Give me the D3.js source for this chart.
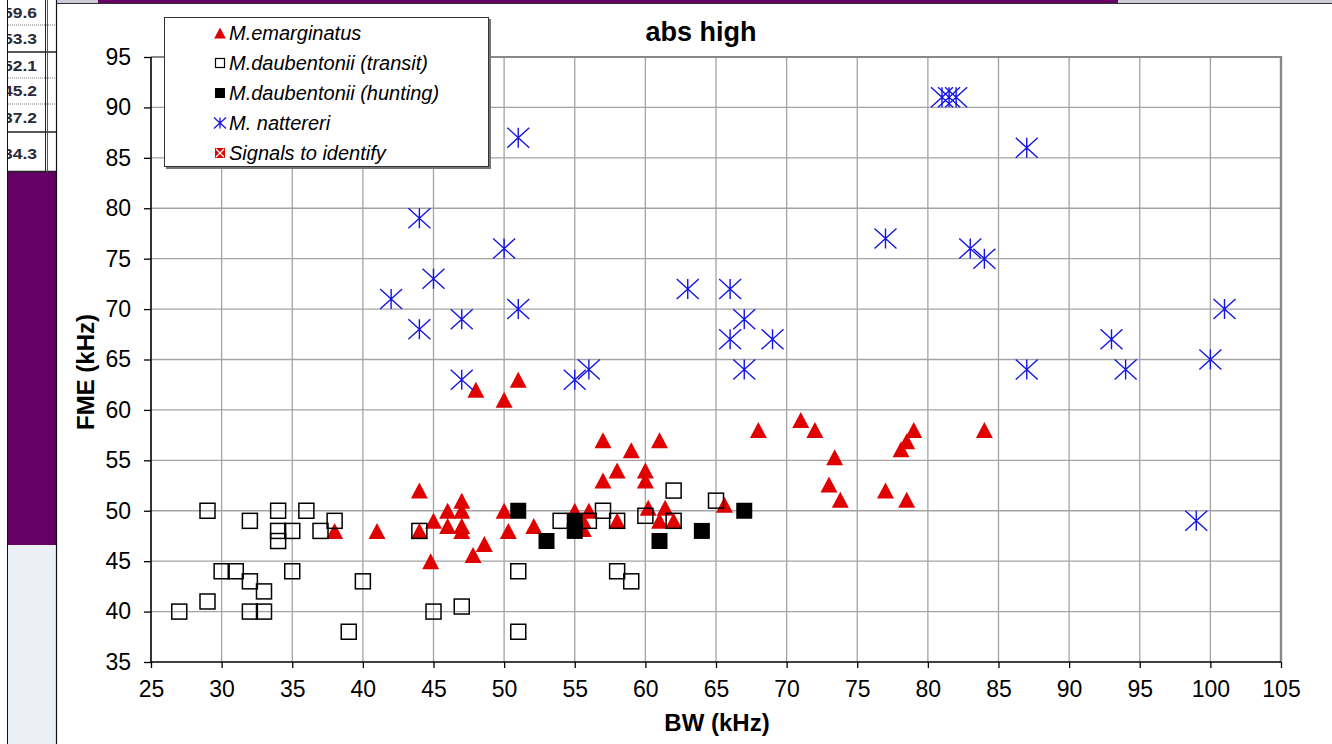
<!DOCTYPE html>
<html><head><meta charset="utf-8">
<script src="https://cdn.jsdelivr.net/npm/d3@7"></script>
<style>html,body{margin:0;padding:0;background:#fff;overflow:hidden}svg{display:block}</style>
</head><body>
<svg id="c" width="1332" height="744"></svg>
<script>
// ---------- data ----------
const xTicks = [25,30,35,40,45,50,55,60,65,70,75,80,85,90,95,100,105];
const yTicks = [35,40,45,50,55,60,65,70,75,80,85,90,95];
const sideNumbers = ["59.6","53.3","52.1","45.2","37.2","34.3"];
const chartTitle = "abs high";
const xTitle = "BW (kHz)";
const yTitle = "FME (kHz)";
const seriesNames = ["M.emarginatus","M.daubentonii (transit)","M.daubentonii (hunting)","M. nattereri","Signals to identify"];

const emarginatus = [
  [48,62],[50,61],[51,63],
  [44,52],[38,48],[41,48],[44,48],[45,49],[46,50],[47,51],[47,50],[46,48.5],[47,48.5],[47,48],
  [44.8,45],[47.8,45.6],[48.6,46.7],[50,50],[50.3,48],[52.1,48.5],
  [57,57],[59,56],[61,57],[58,54],[57,53],[60,54],[60,53],
  [55,50],[56,50],[55.6,49],[55.6,48.2],[58,49],[60.2,50.3],[61.4,50.3],[61,49],[62,49],[65.6,50.6],
  [68,58],[71,59],[72,58],[73.4,55.3],[73,52.6],[73.8,51.1],[77,52],[78.5,51.1],[79,58],[78.5,56.9],[78.1,56.1],[84,58]
];
const daubTransit = [
  [27,40],[29,50],[29,41],[30,44],[31,44],[32,49],[32,43],[32,40],[33,42],[33,40],
  [34,50],[34,48],[34,47],[35,48],[35,44],[36,50],[37,48],[38,49],[39,38],[40,43],
  [44,48],[45,40],[47,40.5],[51,44],[51,38],[54,49],[56,49],[57,50],[58,49],[58,44],[59,43],
  [60,49.5],[62,52],[62,49],[65,51]
];
const daubHunting = [[51,50],[53,47],[55,49],[55,48],[61,47],[64,48],[67,50]];
const nattereri = [
  [51,87],[44,79],[50,76],[45,73],[42,71],[44,68],[47,69],[51,70],[47,63],[55,63],[56,64],
  [63,72],[66,72],[66,67],[67,69],[67,64],[69,67],[77,77],[81,91],[81.5,91],[82,91],
  [87,86],[83,76],[84,75],[87,64],[93,67],[94,64],[99,49],[100,65],[101,70]
];
const signals = [];

// ---------- layout ----------
const svg = d3.select("#c");
const L = 151, R = 1281, T = 57, B = 662;
const x = d3.scaleLinear().domain([25,105]).range([L,R]);
const y = d3.scaleLinear().domain([35,95]).range([B,T]);
const FONT = "'Liberation Sans', Arial, sans-serif";

// ---------- spreadsheet background ----------
const bg = svg.append("g");
bg.append("rect").attr("x",0).attr("y",0).attr("width",1332).attr("height",744).attr("fill","#fff");
bg.append("rect").attr("x",57).attr("y",0).attr("width",1275).attr("height",3).attr("fill","#c9ccd6");
bg.append("rect").attr("x",98).attr("y",0).attr("width",1020).attr("height",3).attr("fill","#660066");
bg.append("line").attr("x1",57).attr("x2",1332).attr("y1",3.5).attr("y2",3.5).attr("stroke","#333").attr("stroke-width",1);
bg.append("rect").attr("x",8).attr("y",172).attr("width",48).attr("height",373).attr("fill","#660066");
bg.append("rect").attr("x",8).attr("y",545).attr("width",48).attr("height",199).attr("fill","#eceff5");
const rowLines = [[25,"dot"],[52,"solid"],[78,"dot"],[104,"dot"],[132,"solid"],[171.5,"solid"]];
rowLines.forEach(([yy,t])=>{
  bg.append("line").attr("x1",8).attr("x2",56).attr("y1",yy).attr("y2",yy)
    .attr("stroke", t==="dot" ? "#777" : "#222").attr("stroke-width", t==="dot"?1:1.5)
    .attr("stroke-dasharray", t==="dot" ? "1,1" : null);
});
bg.append("line").attr("x1",7.5).attr("x2",7.5).attr("y1",0).attr("y2",744).attr("stroke","#111").attr("stroke-width",1);
bg.append("line").attr("x1",45.5).attr("x2",45.5).attr("y1",0).attr("y2",172).attr("stroke","#222").attr("stroke-width",1);
bg.append("line").attr("x1",47.5).attr("x2",47.5).attr("y1",0).attr("y2",172).attr("stroke","#555").attr("stroke-width",1);
bg.append("line").attr("x1",56.5).attr("x2",56.5).attr("y1",0).attr("y2",744).attr("stroke","#111").attr("stroke-width",1.2);
svg.append("clipPath").attr("id","cellclip").append("rect").attr("x",8).attr("y",0).attr("width",37).attr("height",172);
const cellY = [18,44,71,96,123,159];
bg.append("g").attr("clip-path","url(#cellclip)").selectAll("text").data(sideNumbers).join("text")
  .attr("x",3).attr("y",(d,i)=>cellY[i]).text(d=>d)
  .attr("font-family",FONT).attr("font-size",15).attr("font-weight","bold")
  .attr("fill","#2a2a3a").attr("textLength",34).attr("lengthAdjust","spacingAndGlyphs");

// ---------- gridlines ----------
const grid = svg.append("g");
grid.selectAll("line.v").data(xTicks.slice(1,-1)).join("line")
  .attr("x1",d=>x(d)).attr("x2",d=>x(d)).attr("y1",T).attr("y2",B)
  .attr("stroke","#a3a3a3").attr("stroke-width",1.3);
grid.selectAll("line.h").data(yTicks.slice(1,-1)).join("line")
  .attr("x1",L).attr("x2",R).attr("y1",d=>y(d)).attr("y2",d=>y(d))
  .attr("stroke","#a3a3a3").attr("stroke-width",1.3);
svg.append("line").attr("x1",L).attr("x2",R+1).attr("y1",T).attr("y2",T).attr("stroke","#888").attr("stroke-width",2.2);
svg.append("line").attr("x1",R).attr("x2",R).attr("y1",T).attr("y2",B).attr("stroke","#888").attr("stroke-width",2.4);

// ---------- axes ----------
const xAxis = d3.axisBottom(x).tickValues(xTicks).tickSize(6).tickPadding(13).tickFormat(d3.format("d"));
const yAxis = d3.axisLeft(y).tickValues(yTicks).tickSize(7).tickPadding(13).tickFormat(d3.format("d"));
const gx = svg.append("g").attr("transform",`translate(0,${B})`).call(xAxis);
const gy = svg.append("g").attr("transform",`translate(${L},0)`).call(yAxis);
[gx,gy].forEach(g=>{
  g.select(".domain").attr("stroke","#000").attr("stroke-width",1.6);
  g.selectAll(".tick line").attr("stroke","#000").attr("stroke-width",1.3);
  g.selectAll(".tick text").attr("font-family",FONT).attr("font-size",23).attr("fill","#000");
});
gy.select(".domain").attr("d",`M-0,${B}V${T}`);
gx.select(".domain").attr("d",`M${L},0H${R}`);

// ---------- titles ----------
svg.append("text").attr("x",701).attr("y",41).attr("text-anchor","middle")
  .attr("font-family",FONT).attr("font-size",27).attr("font-weight","bold").text(chartTitle);
svg.append("text").attr("x",717).attr("y",731).attr("text-anchor","middle")
  .attr("font-family",FONT).attr("font-size",24).attr("font-weight","bold").text(xTitle);
svg.append("text").attr("transform",`translate(94,372) rotate(-90)`).attr("text-anchor","middle")
  .attr("font-family",FONT).attr("font-size",24).attr("font-weight","bold").text(yTitle);

// ---------- markers ----------
function tri(s){ const w=s*0.53,h=s*0.5; return `M0,${-h}L${w},${h}L${-w},${h}Z`; }
function star(s){ const a=s*0.55,b=s*0.5; return `M${-a},${-b}L${a},${b}M${a},${-b}L${-a},${b}M0,${-b}L0,${b}`; }
const pts = svg.append("g");
pts.append("g").selectAll("path").data(emarginatus).join("path")
  .attr("transform",d=>`translate(${x(d[0])},${y(d[1])})`).attr("d",tri(16)).attr("fill","#e00000");
pts.append("g").selectAll("rect").data(daubTransit).join("rect")
  .attr("x",d=>x(d[0])-7.5).attr("y",d=>y(d[1])-7.5).attr("width",15).attr("height",15)
  .attr("fill","none").attr("stroke","#000").attr("stroke-width",1.5);
pts.append("g").selectAll("rect").data(daubHunting).join("rect")
  .attr("x",d=>x(d[0])-8).attr("y",d=>y(d[1])-8).attr("width",16).attr("height",16).attr("fill","#000");
pts.append("g").selectAll("path").data(nattereri).join("path")
  .attr("transform",d=>`translate(${x(d[0])},${y(d[1])})`).attr("d",star(20))
  .attr("fill","none").attr("stroke","#1414e6").attr("stroke-width",1.4);
pts.append("g").selectAll("rect").data(signals).join("rect")
  .attr("x",d=>x(d[0])-6).attr("y",d=>y(d[1])-6).attr("width",12).attr("height",12).attr("fill","#e00000");

// ---------- legend ----------
const lg = svg.append("g");
lg.append("rect").attr("x",166).attr("y",19).attr("width",325).attr("height",150).attr("fill","#777");
lg.append("rect").attr("x",164.5).attr("y",17.5).attr("width",324).attr("height",149).attr("fill","#fff").attr("stroke","#333").attr("stroke-width",1);
const rowsY = [33,63,93,123,153];
const mx = 220;
lg.append("path").attr("transform",`translate(${mx},${rowsY[0]})`).attr("d",tri(11)).attr("fill","#e00000");
lg.append("rect").attr("x",mx-4.5).attr("y",rowsY[1]-4.5).attr("width",9).attr("height",9).attr("fill","#fff").attr("stroke","#000").attr("stroke-width",1.2);
lg.append("rect").attr("x",mx-5).attr("y",rowsY[2]-5).attr("width",10).attr("height",10).attr("fill","#000");
lg.append("path").attr("transform",`translate(${mx},${rowsY[3]})`).attr("d",star(11)).attr("fill","none").attr("stroke","#1414e6").attr("stroke-width",1.3);
lg.append("rect").attr("x",mx-5).attr("y",rowsY[4]-5).attr("width",10).attr("height",10).attr("fill","#e00000");
lg.append("path").attr("d",`M${mx-4},${rowsY[4]-4}L${mx+4},${rowsY[4]+4}M${mx+4},${rowsY[4]-4}L${mx-4},${rowsY[4]+4}`).attr("stroke","#fff").attr("stroke-width",1.3);
lg.selectAll("text").data(seriesNames).join("text")
  .attr("x",229).attr("y",(d,i)=>rowsY[i]+7).text(d=>d)
  .attr("font-family",FONT).attr("font-size",20).attr("font-style","italic").attr("fill","#000");
</script>
</body></html>
